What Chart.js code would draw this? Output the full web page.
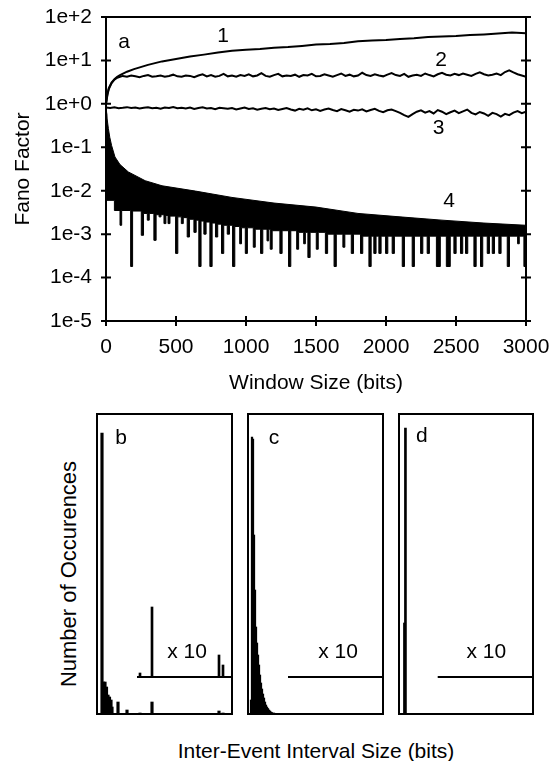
<!DOCTYPE html>
<html>
<head>
<meta charset="utf-8">
<script src="https://cdn.jsdelivr.net/npm/chart.js@4.4.0/dist/chart.umd.min.js"></script>
<style>
  body { margin: 0; background: #fff; }
  #page { position: relative; width: 551px; height: 761px; overflow: hidden; font-family: "Liberation Sans", Arial, sans-serif; color: #000; }
  canvas { position: absolute; }
  .label { position: absolute; font-size: 21px; line-height: 1; white-space: nowrap; transform: translate(-50%, -50%); }
  #occLabel { left: 69px; top: 574px; font-size: 22px; transform: translate(-50%, -50%) rotate(-90deg); }
  #ieiLabel { left: 316px; top: 750px; }
</style>
</head>
<body>
<div id="page">
  <canvas id="fano" width="551" height="400" style="left:0;top:0"></canvas>
  <canvas id="histB" width="137" height="302" style="left:96px;top:413px"></canvas>
  <canvas id="histC" width="137" height="302" style="left:247px;top:413px"></canvas>
  <canvas id="histD" width="136" height="302" style="left:398px;top:413px"></canvas>
  <div class="label" id="occLabel">Number of Occurences</div>
  <div class="label" id="ieiLabel">Inter-Event Interval Size (bits)</div>
</div>
<script>
// ---- panel a: Fano factor vs window size ----
const yTicks = [1e-5, 1e-4, 1e-3, 1e-2, 1e-1, 1, 10, 100];

// curve 1 [window, fano]
const fano1 = [[0, 1.0], [10, 1.7], [20, 2.3], [40, 3.1], [60, 3.7], [80, 4.2], [100, 4.6], [150, 5.5],
  [200, 6.3], [300, 7.9], [400, 9.5], [500, 10.8], [600, 12.3], [700, 13.6], [800, 15.2], [900, 16.8],
  [1000, 17.6], [1100, 18.3], [1200, 19.6], [1300, 20.4], [1400, 21.6], [1500, 23.2], [1600, 24.0],
  [1700, 25.3], [1800, 27.6], [1900, 28.8], [2000, 29.5], [2100, 31.2], [2200, 32.4], [2300, 34.6],
  [2400, 35.5], [2500, 36.3], [2600, 38.4], [2700, 39.6], [2800, 41.5], [2900, 43.8], [3000, 42.0]];

// curve 2: start, then readings every 30 bits from 120
const fano2Head = [[0, 1.0], [10, 1.6], [20, 2.2], [40, 3.0], [60, 3.6], [80, 4.0], [100, 4.2]];
const fano2Val = [
  4.4, 4.2, 4.5, 4.3, 4.1, 4.4, 4.6, 4.2, 4.3, 4.5,
  4.2, 4.4, 4.7, 4.3, 4.2, 4.5, 4.4, 4.1, 4.5, 4.8,
  4.3, 4.6, 4.2, 4.4, 4.9, 4.3, 4.5, 4.2, 4.6, 4.4,
  4.8, 4.3, 4.5, 5.1, 4.4, 4.2, 4.6, 4.9, 4.3, 4.5,
  4.4, 4.7, 4.2, 4.6, 4.5, 4.9, 4.3, 4.4, 4.8, 4.5,
  4.2, 4.6, 5.0, 4.4, 4.7, 4.3, 4.5, 5.2, 4.6, 4.4,
  4.8, 4.5, 4.3, 4.7, 5.1, 4.6, 4.4, 4.9, 4.2, 4.5,
  4.7, 4.4, 5.0, 4.6, 4.3, 4.8, 5.2, 4.7, 4.5, 4.9,
  4.6, 5.0, 4.7, 4.4, 4.9, 5.3, 4.8, 4.5, 4.7, 5.0,
  4.6, 5.4, 5.9, 5.3, 4.8, 4.5, 4.2];

// curve 3: readings every 30 bits from 0
const fano3Val = [
  0.82, 0.80, 0.83, 0.79, 0.81, 0.84, 0.80, 0.82, 0.78, 0.81,
  0.83, 0.79, 0.81, 0.77, 0.82, 0.80, 0.84, 0.79, 0.81, 0.78,
  0.82, 0.76, 0.80, 0.83, 0.78, 0.80, 0.75, 0.81, 0.79, 0.77,
  0.80, 0.74, 0.78, 0.82, 0.76, 0.79, 0.73, 0.77, 0.80, 0.75,
  0.78, 0.72, 0.76, 0.80, 0.74, 0.70, 0.77, 0.73, 0.79, 0.71,
  0.75, 0.69, 0.74, 0.78, 0.72, 0.68, 0.76, 0.71, 0.66, 0.73,
  0.70, 0.75, 0.67, 0.72, 0.77, 0.69, 0.64, 0.71, 0.74, 0.68,
  0.62, 0.55, 0.50, 0.58, 0.66, 0.71, 0.63, 0.68, 0.60, 0.72,
  0.66, 0.58, 0.64, 0.70, 0.61, 0.67, 0.74, 0.62, 0.57, 0.65,
  0.60, 0.53, 0.62, 0.58, 0.51, 0.59, 0.55, 0.63, 0.68, 0.61,
  0.66];

// curve 4: upper envelope and the stepped lower edge (dips)
const fano4Top = [[2, 0.8], [8, 0.45], [17, 0.27], [27, 0.17], [40, 0.11], [64, 0.06], [100, 0.04],
  [160, 0.027], [280, 0.017], [400, 0.013], [640, 0.0098], [900, 0.007], [1200, 0.0052], [1500, 0.0042],
  [1800, 0.003], [2100, 0.0025], [2400, 0.0021], [2700, 0.0018], [3000, 0.0016]];
const fano4Floor = [[2, 0.6], [5, 0.006], [60, 0.0035], [100, 0.0016], [112, 0.0035], [176, 0.00018],
  [190, 0.0034], [252, 0.00094], [268, 0.003], [295, 0.0021], [309, 0.003], [342, 0.00072], [358, 0.0028],
  [379, 0.0025], [393, 0.0028], [414, 0.00175], [428, 0.0027], [443, 0.00175], [457, 0.0026],
  [497, 0.00036], [513, 0.0025], [538, 0.00175], [552, 0.0024], [580, 0.00086], [596, 0.0022],
  [628, 0.0011], [644, 0.0021], [663, 0.00018], [679, 0.002], [699, 0.001], [715, 0.0019],
  [742, 0.00018], [758, 0.0018], [782, 0.00086], [798, 0.0017], [825, 0.00036], [841, 0.0016],
  [866, 0.001], [882, 0.0016], [904, 0.00018], [920, 0.0015], [955, 0.0006], [968, 0.0014],
  [995, 0.00036], [1010, 0.0014], [1052, 0.0005], [1066, 0.0013], [1104, 0.00036], [1120, 0.0013],
  [1150, 0.0007], [1162, 0.0013], [1173, 0.00045], [1187, 0.0012], [1242, 0.00036], [1258, 0.0012],
  [1304, 0.00018], [1320, 0.0012], [1362, 0.00045], [1376, 0.0011], [1412, 0.0006], [1424, 0.0011],
  [1442, 0.00029], [1458, 0.0011], [1502, 0.00045], [1516, 0.0011], [1567, 0.00036], [1583, 0.001],
  [1629, 0.00018], [1645, 0.001], [1692, 0.0005], [1706, 0.001], [1752, 0.00036], [1768, 0.001],
  [1818, 0.00036], [1834, 0.0009], [1878, 0.00018], [1894, 0.0009], [1913, 0.00036], [1929, 0.0009],
  [1949, 0.00036], [1965, 0.0009], [1997, 0.00036], [2013, 0.0009], [2044, 0.00036], [2060, 0.0009],
  [2116, 0.00018], [2132, 0.0009], [2187, 0.00018], [2203, 0.0009], [2247, 0.00036], [2263, 0.0009],
  [2294, 0.00036], [2310, 0.0009], [2360, 0.00018], [2388, 0.0009], [2431, 0.00018], [2459, 0.0009],
  [2485, 0.00036], [2501, 0.0009], [2532, 0.00036], [2548, 0.0009], [2568, 0.00036], [2584, 0.0009],
  [2628, 0.00018], [2644, 0.0009], [2675, 0.00018], [2691, 0.0009], [2723, 0.00036], [2739, 0.0009],
  [2759, 0.00036], [2775, 0.0009], [2806, 0.00036], [2822, 0.0009], [2866, 0.00018], [2882, 0.0009],
  [2940, 0.0006], [2952, 0.0009], [2985, 0.00018], [3000, 0.00018]];

// ---- panels b, c, d: inter-event interval histograms ----
const intervalMax = 137;
const countMax = 302;
const insetBase = 38;

const bInterval = [6, 7.5, 9, 10.5, 12, 13.5, 15, 16, 22, 31, 44, 56, 123, 127];
const bCount = [282, 33, 33, 28, 20, 18, 15, 8, 13, 5, 2, 13, 4, 2];
const bInsetInterval = [44, 56, 123, 127];
const bInsetCount = [4, 70, 22, 12];

const cInterval = [4, 5, 6, 7, 8, 9, 10, 11, 12, 13, 14, 15, 16, 17, 18, 19, 20, 21, 22, 23, 24, 25, 27, 30, 34];
const cCount = [15, 278, 276, 180, 125, 88, 72, 60, 50, 40, 32, 26, 21, 17, 13, 10, 8, 6.5, 5, 4, 3, 2.5, 2, 1.5, 1];

const dInterval = [6.5, 7.5];
const dCount = [92, 287];

Chart.defaults.font.family = '"Liberation Sans", Arial, sans-serif';
Chart.defaults.color = '#000';

const pairs = rows => rows.map(r => ({ x: r[0], y: r[1] }));
const grid = (start, step, vals) => vals.map((v, i) => ({ x: start + i * step, y: v }));

const frame = {
  id: 'frame',
  afterDraw(chart, args, opts) {
    const { ctx, chartArea: a, scales } = chart;
    const k = opts.inset || 0;
    ctx.save();
    ctx.strokeStyle = '#000';
    ctx.lineWidth = 2;
    ctx.strokeRect(a.left + k, a.top + k, a.right - a.left - 2 * k, a.bottom - a.top - 2 * k);
    const len = opts.tick || 0;
    if (len) {
      ctx.beginPath();
      scales.x.ticks.forEach(t => {
        const px = scales.x.getPixelForValue(t.value);
        ctx.moveTo(px, a.bottom - len); ctx.lineTo(px, a.bottom + len);
      });
      scales.y.ticks.forEach(t => {
        const py = scales.y.getPixelForValue(t.value);
        ctx.moveTo(a.left - len, py); ctx.lineTo(a.left + len, py);
        ctx.moveTo(a.right - len, py); ctx.lineTo(a.right + len, py);
      });
      ctx.stroke();
    }
    ctx.restore();
  }
};

function tags(items) {
  return {
    id: 'tags',
    afterDatasetsDraw(chart) {
      const { ctx, scales: { x, y } } = chart;
      ctx.save();
      ctx.fillStyle = '#000';
      ctx.font = '21px "Liberation Sans", Arial, sans-serif';
      ctx.textAlign = 'center';
      ctx.textBaseline = 'alphabetic';
      items.forEach(t => ctx.fillText(t.text, x.getPixelForValue(t.x), y.getPixelForValue(t.y)));
      ctx.restore();
    }
  };
}

const curve = (data, extra) => Object.assign({
  data: data, borderColor: '#000', borderWidth: 2, pointRadius: 0, fill: false, tension: 0
}, extra);

// keep the label overhang from pushing the plot area inwards
const noOverhang = s => { s.paddingLeft = 0; s.paddingRight = 0; s.paddingTop = 0; s.paddingBottom = 0; };

new Chart(document.getElementById('fano'), {
  type: 'line',
  data: {
    datasets: [
      curve(pairs(fano1)),
      curve(pairs(fano2Head).concat(grid(120, 30, fano2Val))),
      curve(grid(0, 30, fano3Val)),
      curve(pairs(fano4Top), { borderWidth: 1 }),
      curve(pairs(fano4Floor), { borderWidth: 1, stepped: true, fill: '-1', backgroundColor: '#000' })
    ]
  },
  options: {
    responsive: false,
    animation: false,
    devicePixelRatio: 1,
    layout: { padding: { left: 0, right: 25, top: 17, bottom: 0 } },
    plugins: { legend: { display: false }, tooltip: { enabled: false }, frame: { tick: 5 } },
    scales: {
      x: {
        type: 'linear', min: 0, max: 3000,
        grid: { display: false, drawTicks: false },
        border: { display: false },
        ticks: { stepSize: 500, maxRotation: 0, padding: 14, font: { size: 21 }, color: '#000', callback: v => String(v) },
        title: { display: true, text: 'Window Size (bits)', font: { size: 21 }, color: '#000', padding: { top: 0, bottom: 4 } },
        afterFit: s => { s.height = 79; noOverhang(s); }
      },
      y: {
        type: 'logarithmic', min: 1e-5, max: 100,
        grid: { display: false, drawTicks: false },
        border: { display: false },
        afterBuildTicks: s => { s.ticks = yTicks.map(v => ({ value: v })); },
        ticks: { autoSkip: false, padding: 14, font: { size: 21 }, color: '#000', callback: v => Number(v).toExponential(0) },
        title: { display: true, text: 'Fano Factor', font: { size: 21 }, color: '#000', padding: { top: 11, bottom: 0 } },
        afterFit: s => { s.width = 106; noOverhang(s); }
      }
    }
  },
  plugins: [frame, tags([
    { x: 129, y: 19, text: 'a' },
    { x: 836, y: 27, text: '1' },
    { x: 2393, y: 7.3, text: '2' },
    { x: 2375, y: 0.2, text: '3' },
    { x: 2450, y: 0.0042, text: '4' }
  ])]
});

function histogram(id, xs, ys, insetXs, insetYs, insetFrom, thickness, items) {
  const datasets = [
    { type: 'bar', data: xs.map((x, i) => ({ x: x, y: ys[i] })), backgroundColor: '#000', barThickness: thickness, grouped: false },
    { type: 'bar', data: insetXs.map((x, i) => ({ x: x, y: [insetBase, insetBase + insetYs[i]] })), backgroundColor: '#000', barThickness: 2, grouped: false },
    { type: 'line', data: [{ x: insetFrom, y: insetBase }, { x: intervalMax, y: insetBase }], borderColor: '#000', borderWidth: 2, pointRadius: 0 }
  ];
  new Chart(document.getElementById(id), {
    type: 'bar',
    data: { datasets: datasets },
    options: {
      responsive: false,
      animation: false,
      devicePixelRatio: 1,
      layout: { padding: 0 },
      plugins: { legend: { display: false }, tooltip: { enabled: false }, frame: { inset: 1 } },
      scales: {
        x: { type: 'linear', min: 0, max: intervalMax, offset: false, display: false },
        y: { type: 'linear', min: 0, max: countMax, display: false }
      }
    },
    plugins: [frame, tags(items)]
  });
}

histogram('histB', bInterval, bCount, bInsetInterval, bInsetCount, 41, 2.5,
  [{ x: 25, y: 271, text: 'b' }, { x: 91, y: 57, text: 'x 10' }]);
histogram('histC', cInterval, cCount, [], [], 41, 1.6,
  [{ x: 27, y: 271, text: 'c' }, { x: 91, y: 57, text: 'x 10' }]);
histogram('histD', dInterval, dCount, [], [], 40, 2,
  [{ x: 24, y: 273, text: 'd' }, { x: 89, y: 57, text: 'x 10' }]);
</script>
</body>
</html>
